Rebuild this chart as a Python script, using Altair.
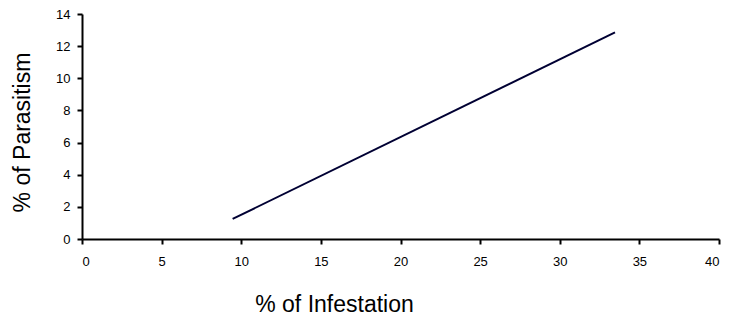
import altair as alt
import pandas as pd

# Trend line endpoints
infestation = [9.46, 33.47]
parasitism = [1.25, 12.86]

x_ticks = [0, 5, 10, 15, 20, 25, 30, 35, 40]
y_ticks = [0, 2, 4, 6, 8, 10, 12, 14]

df = pd.DataFrame({"infestation": infestation, "parasitism": parasitism})

FONT = "Liberation Sans"

chart = alt.Chart(df).mark_line(color="#000033", strokeWidth=2).encode(
    x=alt.X(
        "infestation:Q",
        scale=alt.Scale(domain=[0, 40], nice=False, zero=False),
        axis=alt.Axis(
            title="% of Infestation",
            values=x_ticks,
            grid=False,
            domainColor="#000000",
            domainWidth=2,
            tickColor="#000000",
            tickWidth=2,
            tickSize=5,
            labelFont=FONT,
            labelFontSize=13,
            labelColor="#000000",
            labelPadding=11,
            titleFont=FONT,
            titleFontSize=23,
            titleFontWeight="normal",
            titleColor="#000000",
            titleX=252,
            titleY=72,
            titleAlign="center",
            titleBaseline="alphabetic",
        ),
    ),
    y=alt.Y(
        "parasitism:Q",
        scale=alt.Scale(domain=[0, 14], nice=False, zero=False),
        axis=alt.Axis(
            title="% of Parasitism",
            values=y_ticks,
            grid=False,
            domainColor="#000000",
            domainWidth=2,
            tickColor="#000000",
            tickWidth=2,
            tickSize=5,
            labelFont=FONT,
            labelFontSize=13,
            labelColor="#000000",
            labelPadding=7,
            titleFont=FONT,
            titleFontSize=23,
            titleFontWeight="normal",
            titleColor="#000000",
            titleAngle=270,
            titleX=-53,
            titleY=118,
            titleAlign="center",
            titleBaseline="alphabetic",
        ),
    ),
).properties(
    width=637,
    height=225,
    autosize=alt.AutoSizeParams(type="none"),
    padding={"left": 74, "top": 6, "right": 2, "bottom": 79},
).configure_view(stroke=None)

chart.save("out.html", embed_options={"renderer": "svg", "actions": False})
